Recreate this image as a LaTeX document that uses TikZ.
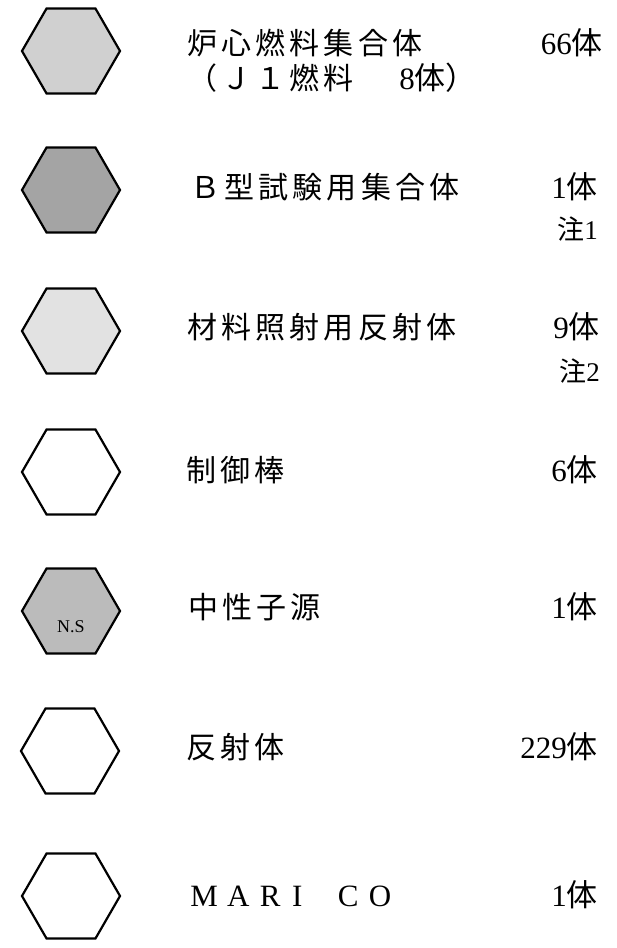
\documentclass[tikz,border=0pt]{standalone}
\usepackage{fontspec}
\setmainfont{Liberation Serif}
\newfontfamily\cjk[LetterSpace=14]{Noto Sans CJK JP}
\newfontfamily\cjkn{Noto Sans CJK JP}
\usetikzlibrary{shapes.geometric}
\definecolor{fillA}{HTML}{D0D0D0}
\definecolor{fillB}{HTML}{A4A4A4}
\definecolor{fillC}{HTML}{E2E2E2}
\definecolor{fillD}{HTML}{BBBBBB}
\begin{document}
\begin{tikzpicture}[x=1pt,y=-1pt,
  hexa/.style={regular polygon, regular polygon sides=6, minimum size=98pt,
    inner sep=0pt, draw=black, line width=2.2pt},
  lbl/.style={anchor=base west, inner sep=0pt, font=\fontsize{30}{32}\cjk},
  cnt/.style={anchor=base east, inner sep=0pt, font=\fontsize{31}{33}\selectfont},
  note/.style={anchor=base east, inner sep=0pt, font=\fontsize{27}{29}\selectfont}]
\useasboundingbox (0,0) rectangle (617,948);
% hexagons
\node[hexa, fill=fillA] (h1) at (71,51) {};
\node[hexa, fill=fillB] (h2) at (71,190) {};
\node[hexa, fill=fillC] (h3) at (71,331) {};
\node[hexa] (h4) at (71,472) {};
\node[hexa, fill=fillD] (h5) at (71,611) {};
\node[hexa] (h6) at (70,751) {};
\node[hexa] (h7) at (71,896) {};
\node[inner sep=0pt, font=\fontsize{18}{20}\selectfont] (ns) at (71,627) {N.S};
% row 1
\node[lbl] (t1) at (187,54) {炉心燃料集合体};
\node[cnt] (c1) at (603,54) {66{\cjkn 体}};
\node[lbl] (t1b) at (187,89) {（Ｊ１燃料};
\node[cnt] (c1b) at (477,89) {8{\cjkn 体）}};
% row 2
\node[lbl] (t2) at (190,198) {Ｂ型試験用集合体};
\node[cnt] (c2) at (598,198) {1{\cjkn 体}};
\node[note] (n2) at (598,239) {{\cjkn 注}1};
% row 3
\node[lbl] (t3) at (187,338) {材料照射用反射体};
\node[cnt] (c3) at (600,338) {9{\cjkn 体}};
\node[note] (n3) at (600,381) {{\cjkn 注}2};
% row 4
\node[lbl] (t4) at (186,481) {制御棒};
\node[cnt] (c4) at (598,481) {6{\cjkn 体}};
% row 5
\node[lbl] (t5) at (188,618) {中性子源};
\node[cnt] (c5) at (598,618) {1{\cjkn 体}};
% row 6
\node[lbl] (t6) at (186,758) {反射体};
\node[cnt] (c6) at (598,758) {229{\cjkn 体}};
% row 7
\node[anchor=base west, inner sep=0pt, font=\fontsize{31}{33}\selectfont] (t7) at (204,906)
  {\makebox[0pt]{M}\hspace{34pt}\makebox[0pt]{A}\hspace{32pt}\makebox[0pt]{R}\hspace{27pt}\makebox[0pt]{I}\hspace{51pt}\makebox[0pt]{C}\hspace{32pt}\makebox[0pt]{O}};
\node[cnt] (c7) at (598,906) {1{\cjkn 体}};
\end{tikzpicture}
\end{document}
